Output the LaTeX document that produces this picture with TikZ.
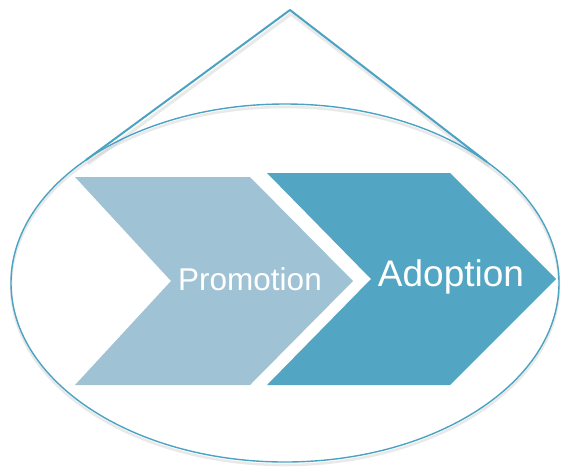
\documentclass[tikz,border=0pt]{standalone}
\usepackage{fontspec}
\setmainfont{Liberation Sans}
\definecolor{lineblue}{HTML}{4BA3C3}
\definecolor{lightchev}{HTML}{9FC3D5}
\definecolor{darkchev}{HTML}{52A5C3}
\begin{document}
\begin{tikzpicture}[x=1pt,y=-1pt,
  outline/.style={draw=lineblue,line width=2pt,line join=round},
  shadowline/.style={draw=black!25,line width=3pt,opacity=0.35},
  chevtext/.style={text=white,inner sep=0pt,anchor=base}]
\useasboundingbox (0,0) rectangle (561,467);
% shadows
\draw[shadowline] (88,164) -- (291,14) -- (489,166);
\draw[shadowline,line width=2.5pt] (285,286) ellipse [x radius=274,y radius=179];
% triangle and ellipse
\draw[outline] (86,160) -- (290,10) -- (487,162);
\draw[draw=lineblue,line width=1.4pt] (285,283) ellipse [x radius=274,y radius=179];
% chevrons
\fill[lightchev] (75,177) -- (250,177) -- (353,281) -- (250,385) -- (75,385) -- (171,281) -- cycle;
\fill[darkchev] (267,173) -- (450,173) -- (556,279) -- (450,385) -- (267,385) -- (371,279) -- cycle;
% labels
\node[chevtext,font=\fontsize{31.5}{36}\selectfont] (promo) at (250,290) {Promotion};
\node[chevtext,font=\fontsize{37}{42}\selectfont] (adopt) at (451,286) {Adoption};
\end{tikzpicture}
\end{document}
